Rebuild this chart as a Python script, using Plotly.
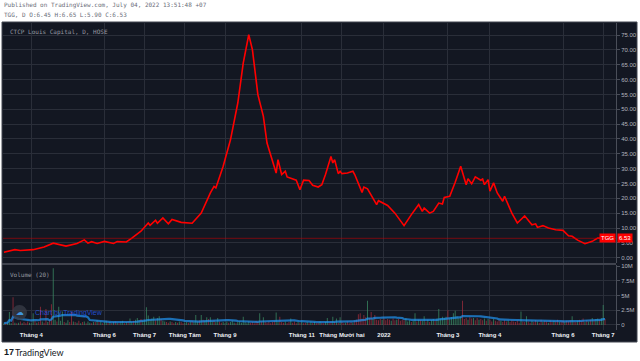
import plotly.graph_objects as go
import pandas as pd

# ---------------- data ----------------
# closing price at selected trading days (bar index, value)
price_idx = [0, 6, 9, 16, 22, 27, 34, 40, 44, 46, 48, 51, 55, 60, 62, 67, 70, 75, 79, 80,
             83, 84, 87, 90, 92, 97, 103, 108, 113, 115, 116, 118, 120, 124, 128, 131, 134, 136, 139, 142,
             144, 149, 150, 152, 154, 155, 160, 162, 164, 167, 169, 172, 174, 176, 179, 180, 181, 183, 184, 185,
             188, 191, 192, 196, 197, 199, 202, 204, 205, 208, 210, 214, 219, 223, 227, 229, 230, 233, 235, 238,
             240, 241, 244, 247, 250, 253, 254, 256, 258, 261, 262, 263, 265, 266, 268, 270, 273, 274, 278, 281,
             285, 289, 291, 292, 295, 298, 302, 306, 309, 311, 314, 318, 321, 322, 325, 329]
price_val = [1.8, 2.7, 2.4, 2.7, 3.6, 4.9, 3.9, 4.8, 6.0, 4.9, 5.4, 4.8, 5.5, 4.8, 5.4, 5.3, 6.6, 8.9, 11.7, 10.9,
             12.6, 11.6, 13.4, 11.4, 12.9, 11.9, 11.6, 15.0, 21.8, 24.0, 23.5, 26.8, 30.8, 39.7, 52.1, 65.6, 75.1, 70.1, 54.9, 47.6,
             38.6, 28.5, 33.0, 28.0, 29.1, 27.2, 26.1, 22.9, 26.1, 26.0, 24.4, 23.8, 24.6, 28.0, 34.1, 31.9, 33.0, 28.3, 29.1, 28.3,
             28.5, 29.1, 28.0, 22.0, 23.8, 23.2, 20.1, 17.9, 19.2, 18.1, 17.6, 15.0, 10.8, 14.5, 17.9, 15.6, 16.7, 15.0, 15.6, 18.4,
             18.1, 20.3, 20.7, 25.4, 30.8, 24.6, 26.6, 24.9, 27.2, 26.1, 26.5, 24.6, 26.3, 22.4, 25.2, 21.8, 19.0, 20.7, 15.0, 11.7,
             14.1, 11.1, 11.4, 10.2, 10.8, 10.0, 9.4, 9.2, 7.4, 7.2, 5.9, 4.7, 5.4, 5.5, 6.6, 6.53]
last_price = 6.53

# daily volume (millions), one per trading day
volume_m = [
    0.3, 0.4, 0.5, 2.2, 0.3, 4.7, 0.4, 0.3, 0.4, 0.6,
    0.3, 0.5, 0.3, 0.6, 0.4, 0.3, 2.0, 0.7, 0.4, 0.5,
    3.1, 0.6, 0.4, 2.7, 0.5, 0.8, 3.5, 9.6, 0.9, 0.6,
    3.1, 0.7, 2.3, 0.5, 0.4, 0.8, 0.5, 2.2, 0.6, 0.5,
    0.4, 0.7, 0.3, 0.5, 0.6, 0.3, 0.6, 0.4, 0.3, 0.5,
    0.5, 0.8, 0.5, 0.6, 0.3, 0.5, 0.7, 0.4, 0.5, 0.3,
    0.5, 0.6, 0.4, 0.3, 0.6, 0.7, 0.3, 0.5, 0.6, 1.1,
    0.5, 0.7, 0.9, 1.2, 0.8, 1.0, 0.7, 0.9, 3.0, 1.6,
    0.9, 1.1, 1.4, 0.8, 1.2, 1.5, 1.0, 0.7, 0.6, 0.5,
    0.4, 0.6, 0.5, 0.3, 0.5, 0.4, 0.6, 0.5, 0.3, 0.4,
    0.5, 0.4, 0.6, 0.7, 0.5, 1.7, 0.6, 0.8, 1.7, 0.9,
    0.7, 1.3, 1.0, 1.3, 0.6, 0.8, 0.5, 1.2, 0.6, 0.4,
    0.5, 0.3, 0.6, 0.4, 0.5, 0.7, 0.4, 0.3, 0.5, 0.6,
    0.4, 1.4, 0.5, 0.3, 0.6, 0.4, 0.5, 0.3, 0.7, 0.5,
    2.0, 0.6, 1.3, 0.5, 0.4, 0.6, 0.3, 0.5, 0.7, 2.1,
    0.6, 1.4, 0.5, 0.4, 0.6, 0.3, 0.5, 1.1, 0.4, 0.6,
    0.3, 0.5, 0.4, 0.6, 0.3, 0.4, 0.5, 0.3, 0.6, 0.4,
    0.5, 0.3, 0.4, 0.6, 0.4, 0.3, 0.5, 1.2, 0.4, 0.6,
    1.4, 0.5, 1.1, 0.4, 1.3, 0.5, 0.3, 0.4, 0.6, 0.3,
    0.5, 0.4, 0.7, 0.9, 1.8, 2.0, 1.1, 1.7, 1.3, 4.1,
    1.2, 2.2, 1.0, 1.7, 0.9, 0.8, 1.0, 0.9, 1.1, 0.8,
    1.0, 0.9, 0.7, 1.1, 0.8, 0.9, 1.0, 0.7, 0.9, 0.8,
    1.2, 0.6, 0.8, 0.5, 0.7, 2.0, 0.6, 0.9, 0.8, 0.7,
    1.5, 0.6, 0.9, 0.5, 0.8, 1.0, 0.7, 1.1, 2.7, 1.0,
    1.4, 1.2, 1.4, 2.5, 1.1, 1.3, 2.0, 2.4, 1.5, 1.2,
    1.4, 4.1, 1.0, 1.2, 0.9, 1.3, 1.1, 1.2, 0.8, 1.2,
    0.9, 1.0, 0.8, 1.1, 0.7, 1.0, 0.9, 0.6, 1.0, 0.7,
    0.6, 0.8, 0.7, 0.5, 0.8, 0.6, 0.7, 0.5, 0.8, 0.6,
    0.5, 0.7, 0.4, 2.3, 0.6, 0.5, 1.5, 0.6, 0.4, 0.7,
    0.5, 0.8, 0.6, 0.4, 0.9, 0.5, 0.7, 0.6, 0.4, 0.8,
    0.5, 0.7, 0.6, 0.9, 0.5, 0.6, 0.8, 0.5, 0.7, 0.6,
    0.8, 1.5, 0.6, 0.5, 0.7, 0.9, 0.6, 1.1, 0.5, 0.8,
    0.6, 0.9, 1.2, 0.8, 1.0, 1.1, 0.9, 1.2, 3.4, 1.0,
]
# up (g) / down (r) day for each volume bar
vol_dir = ("grgggrgrgr" "grrrgggrgr" "rgrrgrrggr" "gggrggrrgr" "grgrgrggrg"
           "rgrgrggrgr" "grgrggrgrg" "grgggrgggg" "gggrggrggr" "rgrrgrgrrg"
           "grgrgggrgr" "ggrggrggrr" "gggrgggrgg" "gggggrrrrr" "grgrrrrrrg"
           "grrrgrrgrr" "rgrgrrgrgr" "grrgrrggrr" "grgrgrrgrr" "rgrrrrrrrg"
           "rrgrrrrgrr" "rrgrrgrrrr" "gggrggrgrg" "grgrggrggg" "gggrgggggg"
           "grrrgrrgrr" "grrgrgrrgr" "rrgrrrgrrr" "rrrgrrgrrg" "rrgrrgrrgr"
           "rgrrgrrgrr" "rgrrgrrrgr" "grgrggrggr")

# x-axis month labels (bar index of first trading day)
month_idx = [15, 55, 77, 99, 121, 163, 185, 208, 243, 266, 306, 328]
month_lbl = ["Tháng 4", "Tháng 6", "Tháng 7", "Tháng Tám", "Tháng 9", "Tháng 11",
             "Tháng Mười hai", "2022", "Tháng 3", "Tháng 4", "Tháng 6", "Tháng 7"]
price_ticks = [0, 5, 10, 15, 20, 25, 30, 35, 40, 45, 50, 55, 60, 65, 70, 75]
vol_ticks = [0, 2.5, 5, 7.5, 10]
vol_tick_lbl = ["0", "2.5M", "5M", "7.5M", "10M"]

# ---------------- figure ----------------
W, H = 640, 361
L, R, T, B = 3, 24, 23, 31
PW, PH = W - L - R, H - T - B
def fx(px): return (px - L) / PW
def fy(py): return (H - B - py) / PH

BG = "#131722"
GRID = "#2a2e39"
AX = "#4a4e59"
TXT = "#b2b5be"
MONO = "DejaVu Sans Mono"

bar_idx = list(range(len(volume_m)))
vol_ma = pd.Series(volume_m).rolling(20, min_periods=1).mean()
bar_col = ["rgba(60,140,100,0.75)" if d == "g" else "rgba(160,45,60,0.75)" for d in vol_dir]

fig = go.Figure()
fig.add_trace(go.Bar(x=bar_idx, y=volume_m, marker_color=bar_col, marker_line_width=0,
                     xaxis="x", yaxis="y2", hoverinfo="skip"))
fig.add_trace(go.Scatter(x=bar_idx, y=vol_ma, mode="lines",
                         line=dict(color="rgba(33,150,243,0.7)", width=2.2),
                         xaxis="x", yaxis="y2", hoverinfo="skip"))
fig.add_trace(go.Scatter(x=price_idx, y=price_val, mode="lines",
                         line=dict(color="#ff0000", width=1.6),
                         xaxis="x", yaxis="y", hoverinfo="skip"))

p_lo, p_hi = -1.79, 79.05
v_lo, v_hi = -0.85, 10.17

shapes = [
    dict(type="rect", xref="paper", yref="paper", x0=fx(2), x1=fx(637), y0=fy(342), y1=fy(22),
         fillcolor=BG, line=dict(color="#434651", width=1), layer="below"),
    dict(type="line", xref="paper", yref="paper", x0=fx(2), x1=1, y0=fy(264), y1=fy(264),
         line=dict(color="#50535e", width=1.5)),
    dict(type="line", xref="paper", yref="y", x0=0, x1=1, y0=last_price, y1=last_price,
         line=dict(color="rgba(200,0,0,0.55)", width=1)),
]

ann = [
    dict(text="Published on TradingView.com, July 04, 2022 13:51:48 +07", x=fx(2), y=fy(5),
         font=dict(family=MONO, size=6, color="#6a6d78")),
    dict(text="TGG, D O:6.45 H:6.65 L:5.90 C:6.53", x=fx(2), y=fy(15),
         font=dict(family=MONO, size=6, color="#6a6d78")),
    dict(text="CTCP Louis Capital, D, HOSE", x=fx(8), y=fy(32),
         font=dict(family=MONO, size=6, color="#9598a1")),
    dict(text="Volume (20)", x=fx(8), y=fy(274),
         font=dict(family=MONO, size=6, color="#9598a1")),
    dict(text="Chart by TradingView", x=fx(33), y=fy(313),
         font=dict(family="Liberation Sans", size=7, color="rgba(41,98,255,0.75)")),
    dict(text="<b>17</b>", x=fx(2), y=fy(352),
         font=dict(family="Liberation Sans", size=9, color="#131722")),
    dict(text="TradingView", x=fx(13), y=fy(352),
         font=dict(family="Lato", size=9, color="#131722")),
]
for a in ann:
    a.update(xref="paper", yref="paper", xanchor="left", yanchor="middle", showarrow=False)

# watermark circle
shapes.append(dict(type="circle", xref="paper", yref="paper", x0=fx(12), x1=fx(27), y0=fy(320), y1=fy(305),
                   fillcolor="rgba(55,59,70,0.8)", line=dict(width=0)))
ann.append(dict(text="☁", x=fx(19.5), y=fy(312.5), xref="paper", yref="paper", showarrow=False,
                xanchor="center", yanchor="middle",
                font=dict(family="DejaVu Sans", size=8, color="rgba(66,165,245,0.9)")))

# last price tags
ann.append(dict(text="TGG", x=1, y=last_price, xref="paper", yref="y", xanchor="right", yanchor="middle",
                showarrow=False, bgcolor="#ff0000", borderpad=1,
                font=dict(family="Liberation Sans", size=6, color="#ffffff")))
ann.append(dict(text="6.53", x=1.002, y=last_price, xref="paper", yref="y", xanchor="left", yanchor="middle",
                showarrow=False, bgcolor="#ff0000", borderpad=1,
                font=dict(family="Liberation Sans", size=6, color="#ffffff")))

fig.update_layout(
    width=W, height=H, margin=dict(l=L, r=R, t=T, b=B),
    paper_bgcolor="#ffffff", plot_bgcolor=BG, showlegend=False, bargap=0.45,
    shapes=shapes, annotations=ann,
    xaxis=dict(range=[-0.5, 335], anchor="y2", tickmode="array", tickvals=month_idx, ticktext=month_lbl,
               showgrid=True, gridcolor=GRID, gridwidth=1, zeroline=False, showline=False,
               ticks="", tickfont=dict(family="Liberation Sans", size=6, color="#eceff5", weight="bold")),
    yaxis=dict(domain=[fy(263), 1], range=[p_lo, p_hi], side="right", anchor="x",
               tickmode="array", tickvals=price_ticks, ticktext=[f"{v:.2f}" for v in price_ticks],
               showgrid=True, gridcolor=GRID, zeroline=False, showline=True, linecolor=AX,
               ticks="outside", ticklen=3, tickcolor=AX,
               tickfont=dict(family="Liberation Sans", size=6, color=TXT)),
    yaxis2=dict(domain=[0, fy(265)], range=[v_lo, v_hi], side="right", anchor="x",
                tickmode="array", tickvals=vol_ticks, ticktext=vol_tick_lbl,
                showgrid=True, gridcolor=GRID, zeroline=False, showline=True, linecolor=AX,
                ticks="outside", ticklen=3, tickcolor=AX,
                tickfont=dict(family="Liberation Sans", size=6, color=TXT)),
)

fig.write_html("out.html", config={"displayModeBar": False},
               post_script="document.body.style.margin='0';document.body.style.overflow='hidden';")
